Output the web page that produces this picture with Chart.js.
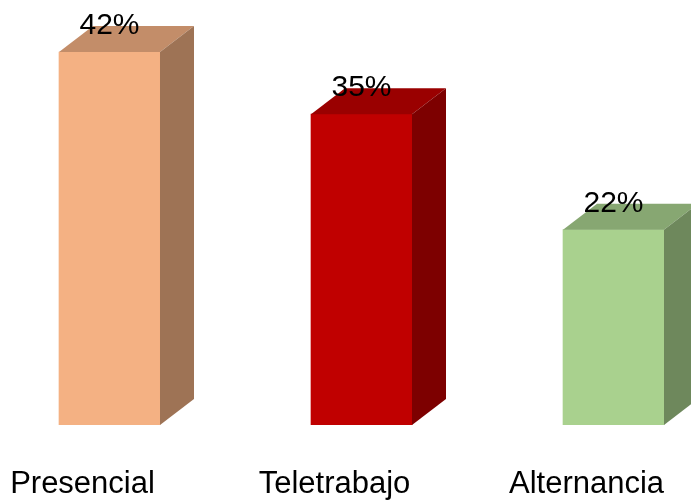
<!DOCTYPE html>
<html>
<head>
<meta charset="utf-8">
<script src="https://cdn.jsdelivr.net/npm/chart.js@4.4.1/dist/chart.umd.min.js"></script>
<style>
    html, body { margin: 0; padding: 0; background: #ffffff; }
    #wrap { width: 691px; height: 502px; position: relative; }
</style>
</head>
<body>
<div id="wrap"><canvas id="barChart"></canvas></div>
<script>
// Chart data
const categories = ['Presencial', 'Teletrabajo', 'Alternancia'];
const percentValues = [42, 35, 22];
const frontColors = ['#F4B183', '#C00000', '#A9D18E'];
const topColors = ['#C38D69', '#9A0000', '#87A772'];
const sideColors = ['#9E7355', '#7D0000', '#6E885C'];

const FONT = "'Liberation Sans', Arial, sans-serif";
const DEPTH_X = 34;
const DEPTH_Y = 26;

// Draw top and side faces so the bars look like boxes
const boxFaces = {
    id: 'boxFaces',
    afterDatasetsDraw(chart) {
        const ctx = chart.ctx;
        const meta = chart.getDatasetMeta(0);
        meta.data.forEach((bar, i) => {
            const half = bar.width / 2;
            const left = bar.x - half;
            const right = bar.x + half;
            const top = bar.y;
            const base = bar.base;

            ctx.save();
            // top face
            ctx.fillStyle = topColors[i];
            ctx.beginPath();
            ctx.moveTo(left, top);
            ctx.lineTo(right, top);
            ctx.lineTo(right + DEPTH_X, top - DEPTH_Y);
            ctx.lineTo(left + DEPTH_X, top - DEPTH_Y);
            ctx.closePath();
            ctx.fill();

            // side face
            ctx.fillStyle = sideColors[i];
            ctx.beginPath();
            ctx.moveTo(right, top);
            ctx.lineTo(right + DEPTH_X, top - DEPTH_Y);
            ctx.lineTo(right + DEPTH_X, base - DEPTH_Y);
            ctx.lineTo(right, base);
            ctx.closePath();
            ctx.fill();

            // value label
            ctx.fillStyle = '#000000';
            ctx.font = '30px ' + FONT;
            ctx.textAlign = 'center';
            ctx.textBaseline = 'middle';
            ctx.fillText(percentValues[i] + '%', bar.x, top - 26);
            ctx.restore();
        });
    }
};

new Chart(document.getElementById('barChart'), {
    type: 'bar',
    data: {
        datasets: [{
            data: percentValues.map((v, i) => ({ x: i, y: v })),
            backgroundColor: frontColors,
            borderWidth: 0,
            barThickness: 101
        }]
    },
    options: {
        responsive: true,
        maintainAspectRatio: false,
        animation: false,
        layout: { padding: 0 },
        plugins: {
            legend: { display: false },
            tooltip: { enabled: false }
        },
        scales: {
            x: {
                type: 'linear',
                offset: false,
                min: -0.4345,
                max: 2.3075,
                grid: { display: false, offset: false },
                border: { display: false },
                afterBuildTicks: (axis) => {
                    axis.ticks = categories.map((_, i) => ({ value: i }));
                },
                afterFit: (axis) => {
                    axis.height = 77;
                    axis.paddingLeft = 0;
                    axis.paddingRight = 0;
                },
                ticks: {
                    autoSkip: false,
                    maxRotation: 0,
                    labelOffset: -27,
                    padding: 33,
                    color: '#000000',
                    font: { family: FONT, size: 31 },
                    callback: (value) => categories[value]
                }
            },
            y: {
                display: false,
                min: 0,
                max: 47.86
            }
        }
    },
    plugins: [boxFaces]
});
</script>
</body>
</html>
